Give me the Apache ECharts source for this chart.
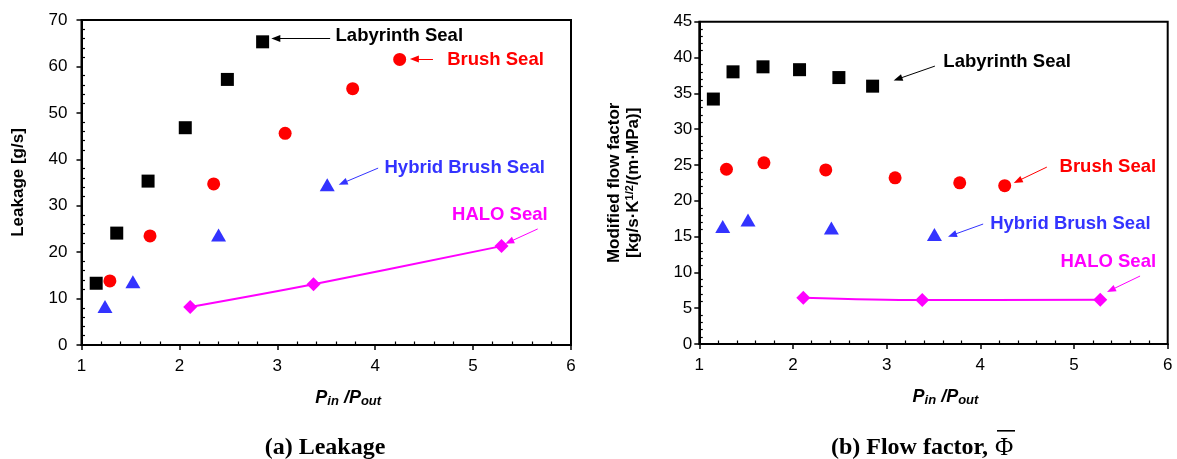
<!DOCTYPE html>
<html>
<head>
<meta charset="utf-8">
<script src="https://cdn.jsdelivr.net/npm/echarts@6/dist/echarts.min.js"></script>
<style>
html,body{margin:0;padding:0;background:#fff;}
#c{width:1177px;height:459px;}
</style>
</head>
<body>
<div id="c"></div>
<script>
// ---------- data ----------
// (a) Leakage [g/s] vs Pin/Pout
const leakLabX   = [1.15, 1.36, 1.68, 2.06, 2.49, 2.85];
const leakLabY   = [13.3, 24.1, 35.3, 46.8, 57.2, 65.3];
const leakBrushX = [1.29, 1.70, 2.35, 3.08, 3.77, 4.25];
const leakBrushY = [13.8, 23.5, 34.7, 45.6, 55.2, 61.5];
const leakHybX   = [1.24, 1.525, 2.40, 3.51];
const leakHybY   = [8.3, 13.6, 23.7, 34.5];
const leakHaloX  = [2.11, 3.37, 5.29];
const leakHaloY  = [8.2, 13.1, 21.3];
// (b) Modified flow factor vs Pin/Pout
const flowLabX   = [1.15, 1.36, 1.68, 2.07, 2.49, 2.85];
const flowLabY   = [34.2, 38.0, 38.7, 38.3, 37.2, 36.0];
const flowBrushX = [1.29, 1.69, 2.35, 3.09, 3.78, 4.26];
const flowBrushY = [24.4, 25.3, 24.3, 23.2, 22.5, 22.1];
const flowHybX   = [1.25, 1.52, 2.41, 3.51];
const flowHybY   = [16.4, 17.3, 16.2, 15.3];
const flowHaloX  = [2.11, 3.38, 5.28];
const flowHaloY  = [6.47, 6.14, 6.19];

const seriesNames = ['Labyrinth Seal', 'Brush Seal', 'Hybrid Brush Seal', 'HALO Seal'];
const captionA = '(a) Leakage';
const captionB = '(b) Flow factor,';
const captionSym = '\u03A6';

// annotation anchors in data units: [textX, textY, arrowFromX, arrowFromY, arrowToX, arrowToY]
const leakNotes = [
  [3.59, 66.5, 3.54, 66.0, 2.985, 66.0],
  [4.73, 61.4, 4.59, 61.6, 4.40, 61.6],
  [4.09, 38.1, 4.03, 38.1, 3.67, 34.9],
  [4.78, 28.0, 5.66, 25.0, 5.37, 22.2]
];
const flowNotes = [
  [3.60, 39.4, 3.515, 38.8, 3.12, 37.0],
  [4.84, 24.7, 4.71, 24.7, 4.40, 22.76],
  [4.10, 16.75, 4.03, 16.75, 3.70, 15.2],
  [4.85, 11.45, 5.705, 9.49, 5.395, 7.54]
];

// ---------- styling ----------
const colors = ['#000000', '#ff0000', '#3333ff', '#ff00ff'];
const symbols = ['rect', 'circle', 'triangle', 'diamond'];
const symSizes = [13, 13, [15, 13], 14];
const FONT = 'Liberation Sans, Arial, sans-serif';
const SERIF = '"Liberation Serif", "Times New Roman", serif';

function zip(xs, ys) { return xs.map((x, i) => [x, ys[i]]); }

function mainX(gi, labelMargin, namePad) {
  return {
    gridIndex: gi, type: 'value', min: 1, max: 6, interval: 1, position: 'bottom',
    name: '{p|P}{s|in}{p| /P}{s|out}', nameLocation: 'middle', nameGap: 44,
    nameTextStyle: {
      padding: [0, 0, 0, namePad],
      rich: {
        p: { fontSize: 18, fontWeight: 'bold', fontStyle: 'italic', fontFamily: FONT, color: '#000', lineHeight: 19 },
        s: { fontSize: 13, fontWeight: 'bold', fontStyle: 'italic', fontFamily: FONT, color: '#000', verticalAlign: 'bottom', padding: [8, 0, 0, 0], lineHeight: 13 }
      }
    },
    axisLine: { show: true, onZero: false, lineStyle: { color: '#000', width: 2 } },
    axisTick: { show: true, inside: false, length: 5, lineStyle: { color: '#000', width: 1.5 } },
    axisLabel: { show: true, margin: labelMargin, fontSize: 17, fontFamily: FONT, color: '#000' },
    splitLine: { show: false }
  };
}
function minorX(gi) {
  return {
    gridIndex: gi, type: 'value', min: 1, max: 6, interval: 1, position: 'bottom',
    axisLine: { show: false, onZero: false },
    axisTick: { show: false, inside: true },
    minorTick: { show: true, splitNumber: 5, length: 3.5, lineStyle: { color: '#000', width: 1.2 } },
    axisLabel: { show: false }, splitLine: { show: false }
  };
}
function mainY(gi, max, interval, labelMargin, name, nameGap, rich) {
  return {
    gridIndex: gi, type: 'value', min: 0, max: max, interval: interval, position: 'left',
    name: name, nameLocation: 'middle', nameGap: nameGap, nameRotate: 90,
    nameTextStyle: { rich: rich },
    axisLine: { show: true, onZero: false, lineStyle: { color: '#000', width: 2 } },
    axisTick: { show: true, inside: false, length: 5, lineStyle: { color: '#000', width: 1.5 } },
    axisLabel: { show: true, margin: labelMargin, fontSize: 17, fontFamily: FONT, color: '#000' },
    splitLine: { show: false }
  };
}
function minorY(gi, max, interval) {
  return {
    gridIndex: gi, type: 'value', min: 0, max: max, interval: interval, position: 'left',
    axisLine: { show: false, onZero: false },
    axisTick: { show: false, inside: true },
    minorTick: { show: true, splitNumber: 5, length: 3.5, lineStyle: { color: '#000', width: 1.2 } },
    axisLabel: { show: false }, splitLine: { show: false }
  };
}

function makeSeries(gi, xsList, ysList, notes) {
  return xsList.map((xs, k) => {
    const n = notes[k];
    const isHalo = k === 3;
    return {
      name: seriesNames[k],
      type: isHalo ? 'line' : 'scatter',
      xAxisIndex: gi * 2, yAxisIndex: gi * 2,
      data: zip(xs, ysList[k]),
      symbol: symbols[k], symbolSize: symSizes[k],
      showSymbol: true,
      smooth: isHalo ? 0.35 : undefined,
      lineStyle: isHalo ? { color: colors[k], width: 2 } : undefined,
      itemStyle: { color: colors[k], opacity: 1 },
      emphasis: { disabled: true },
      animation: false,
      z: 3,
      markLine: {
        silent: true, animation: false,
        symbol: ['none', 'triangle'], symbolSize: [7, 9],
        label: { show: false },
        lineStyle: { color: colors[k], width: 1, type: 'solid' },
        emphasis: { disabled: true },
        data: [[{ coord: [n[2], n[3]] }, { coord: [n[4], n[5]] }]]
      },
      markPoint: {
        silent: true, animation: false,
        symbol: 'circle', symbolSize: 1,
        itemStyle: { color: 'rgba(0,0,0,0)' },
        label: {
          show: true, position: 'right', distance: 0,
          formatter: seriesNames[k],
          color: colors[k], fontSize: 18.5, fontWeight: 'bold', fontFamily: FONT
        },
        data: [{ coord: [n[0], n[1]] }]
      }
    };
  });
}

const chart = echarts.init(document.getElementById('c'), null, { renderer: 'canvas' });
const nameRichL = { b: { fontSize: 17, fontWeight: 'bold', fontFamily: FONT, color: '#000' } };
const nameRichR = {
  b: { fontSize: 17, fontWeight: 'bold', fontFamily: FONT, color: '#000', lineHeight: 19 },
  sup: { fontSize: 11, fontWeight: 'bold', fontFamily: FONT, color: '#000', verticalAlign: 'top', lineHeight: 19 }
};

chart.setOption({
  animation: false,
  grid: [
    { left: 81.5, top: 20, width: 489.5, height: 325, show: true, borderColor: '#000', borderWidth: 2, backgroundColor: '#fff' },
    { left: 699.3, top: 21.7, width: 468.4, height: 322.3, show: true, borderColor: '#000', borderWidth: 2, backgroundColor: '#fff' }
  ],
  xAxis: [mainX(0, 13, 44), minorX(0), mainX(1, 13, 24), minorX(1)],
  yAxis: [
    mainY(0, 70, 10, 14, '{b|Leakage [g/s]}', 55, nameRichL), minorY(0, 70, 10),
    mainY(1, 45, 5, 7, '{b|Modified flow factor}\n{b|[kg/s\u00B7K}{sup|1/2}{b|/(m\u00B7MPa)]}', 56, nameRichR), minorY(1, 45, 5)
  ],
  series: [
    ...makeSeries(0, [leakLabX, leakBrushX, leakHybX, leakHaloX], [leakLabY, leakBrushY, leakHybY, leakHaloY], leakNotes),
    ...makeSeries(1, [flowLabX, flowBrushX, flowHybX, flowHaloX], [flowLabY, flowBrushY, flowHybY, flowHaloY], flowNotes)
  ],
  graphic: [
    { type: 'text', x: 325, y: 448, style: { text: captionA, font: 'bold 24px ' + SERIF, fill: '#000', textAlign: 'center', textVerticalAlign: 'middle' } },
    { type: 'text', x: 988, y: 448, style: { text: captionB, font: 'bold 24px ' + SERIF, fill: '#000', textAlign: 'right', textVerticalAlign: 'middle' } },
    { type: 'text', x: 995, y: 448, style: { text: captionSym, font: 'normal 25px ' + SERIF, fill: '#000', textAlign: 'left', textVerticalAlign: 'middle' } },
    { type: 'rect', shape: { x: 997, y: 430, width: 18, height: 1.6 }, style: { fill: '#000' } }
  ]
});
</script>
</body>
</html>
